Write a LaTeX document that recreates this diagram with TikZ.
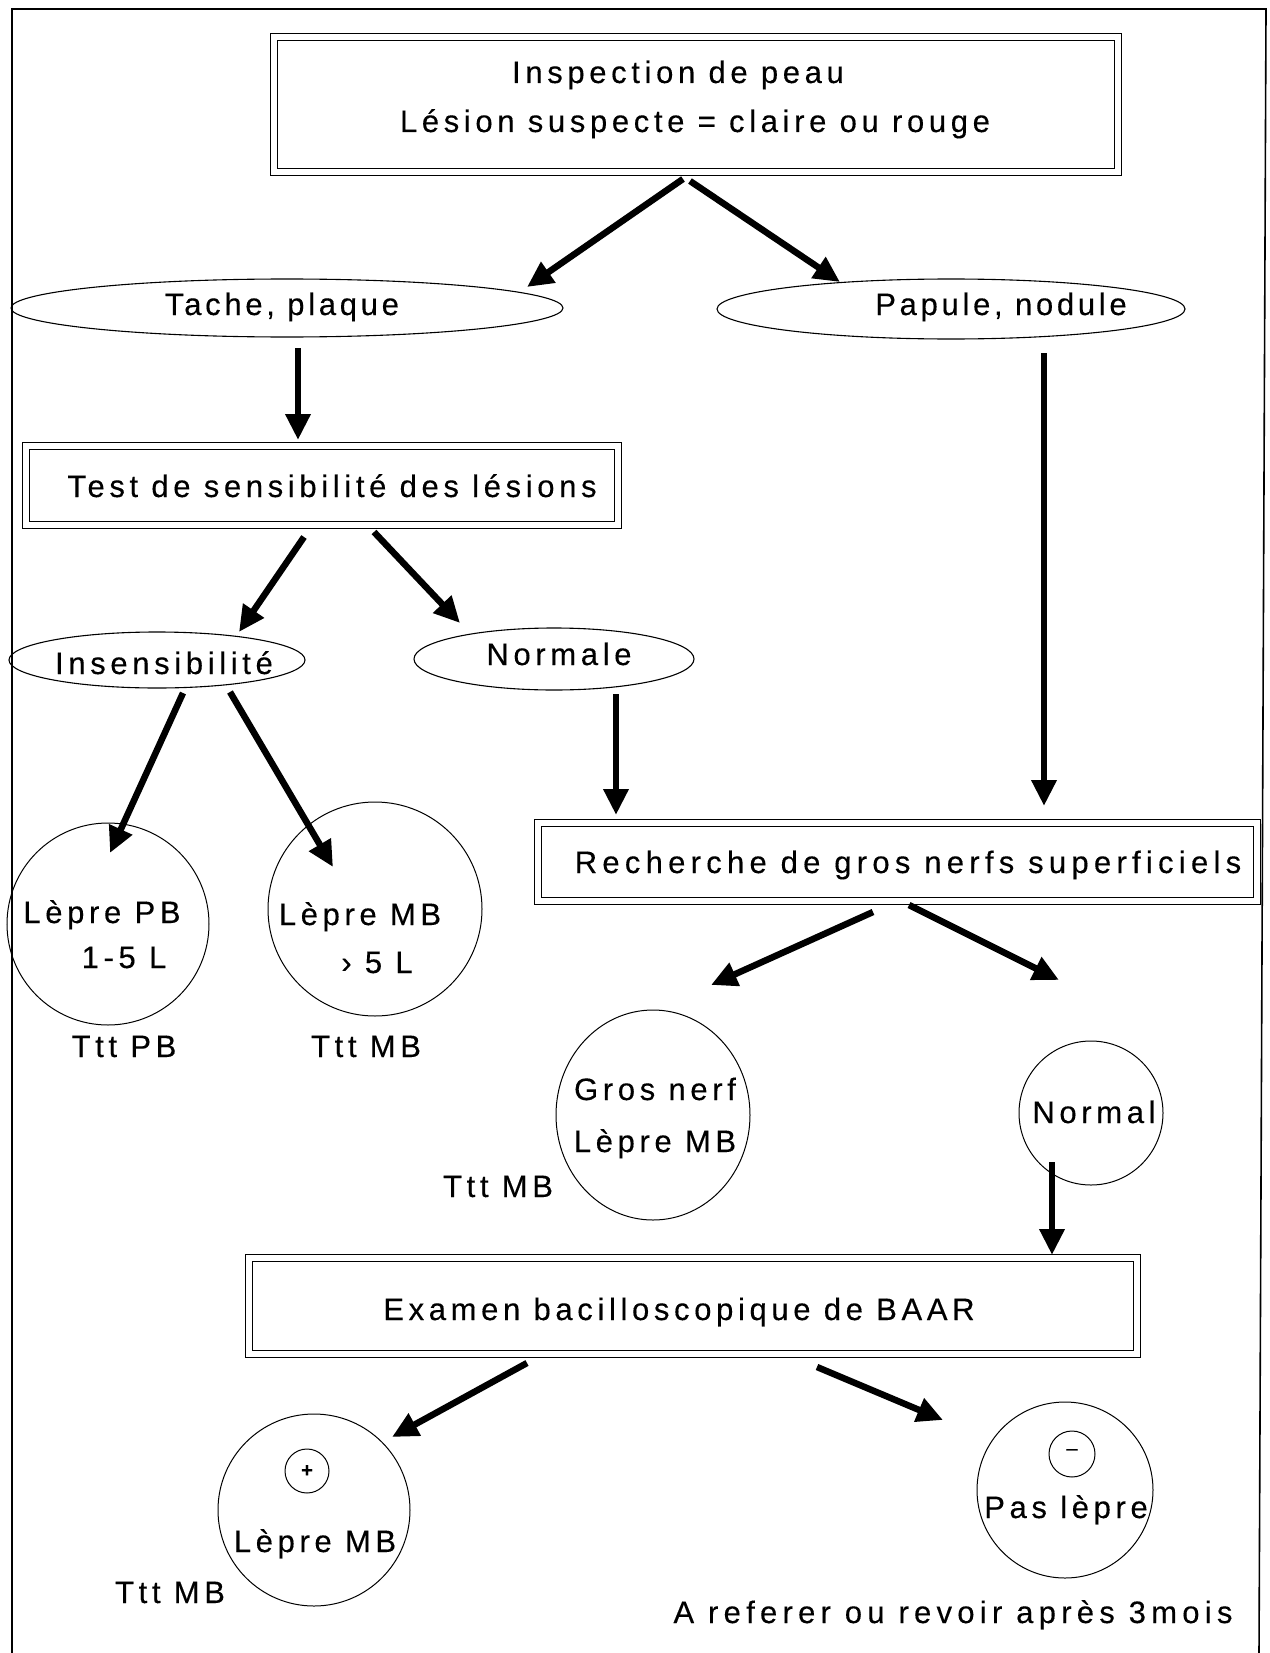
\documentclass[tikz,border=0pt]{standalone}
\usepackage{fontspec}
\setmainfont{Liberation Sans}[LetterSpace=15,FakeBold=0.3]
\usetikzlibrary{arrows.meta,shapes.geometric}
\begin{document}
\begin{tikzpicture}[x=1pt,y=-1pt,
  every node/.style={inner sep=0pt,outer sep=0pt},
  lbl/.style={anchor=base,font=\fontsize{31}{37}\selectfont},
  ls/.style={font=\fontsize{31}{37}\selectfont\addfontfeature{LetterSpace=#1}},
  dbox/.style n args={2}{draw,rectangle,double,double distance=6pt,line width=1.2pt,minimum width=#1,minimum height=#2},
  oval/.style n args={2}{draw,ellipse,line width=1.1pt,minimum width=#1,minimum height=#2},
  disc/.style={draw,circle,line width=1pt,minimum size=#1},
  arr/.style={line width=6.5pt,-{Triangle[length=26pt,width=24pt]}},
  frame/.style={line width=1.6pt}]
\useasboundingbox (0,0) rectangle (1269,1653);
\fill[white] (0,0) rectangle (1269,1653);
% page frame, open at the bottom
\draw[frame] (12,1653) -- (12,9) -- (1266,9) -- (1259,1653);

% boxes
\node[dbox={844pt}{135pt}] (top) at (696,104.5) {};
\node[dbox={592pt}{79pt}] (test) at (322,485.5) {};
\node[dbox={719pt}{78pt}] (rech) at (897.5,862) {};
\node[dbox={888pt}{96pt}] (exam) at (693,1306) {};

% ellipses
\node[oval={552pt}{58pt}] (tache) at (287,308) {};
\node[oval={468pt}{60pt}] (papule) at (951,309) {};
\node[oval={296pt}{56pt}] (insens) at (157,660) {};
\node[oval={280pt}{62pt}] (normale) at (554,659) {};

% round result nodes
\node[disc=202pt] (pb) at (108,924) {};
\node[disc=214pt] (mb) at (375,909) {};
\node[oval={194pt}{210pt},line width=1pt] (gros) at (653,1115) {};
\node[disc=144pt] (normal) at (1091,1113) {};
\node[disc=192pt] (plus) at (314,1510) {};
\node[disc=176pt] (minus) at (1065,1490) {};
\node[disc=44pt] (plussign) at (307,1471) {};
\node[disc=46pt] (minussign) at (1072,1454) {};

% texts
\node[lbl] (t1) at (678,83) {Inspection de peau};
\node[lbl] (t2) at (695,132) {Lésion suspecte = claire ou rouge};
\node[lbl,ls=12] (t3) at (282,315) {Tache, plaque};
\node[lbl,ls=12] (t4) at (1001,315) {Papule, nodule};
\node[lbl] (t5) at (332,497) {Test de sensibilité des lésions};
\node[lbl] (t6) at (164,674) {Insensibilité};
\node[lbl] (t7) at (559,665) {Normale};
\node[lbl] (t8) at (102,923) {Lèpre PB};
\node[lbl] (t9) at (124,968) {1-5 L};
\node[lbl] (t10) at (124,1057) {Ttt PB};
\node[lbl] (t11) at (360,925) {Lèpre MB};
\node[lbl] (t12) at (377,973) {› 5 L};
\node[lbl] (t13) at (366,1057) {Ttt MB};
\node[lbl,ls=17] (t14) at (908,873) {Recherche de gros nerfs superficiels};
\node[lbl] (t15) at (655,1100) {Gros nerf};
\node[lbl] (t16) at (655,1152) {Lèpre MB};
\node[lbl] (t17) at (498,1197) {Ttt MB};
\node[lbl] (t18) at (1094,1123) {Normal};
\node[lbl] (t19) at (679,1320) {Examen bacilloscopique de BAAR};
\node[lbl] (t20) at (315,1552) {Lèpre MB};
\node[lbl] (t21) at (170,1603) {Ttt MB};
\node[lbl] (t22) at (1066,1518) {Pas lèpre};
\node[lbl,ls=17] (t23) at (953,1623) {A referer ou revoir après 3mois};
\node[font=\fontsize{20}{20}\selectfont\bfseries] (psign) at (plussign.center) {+};
\node[font=\fontsize{20}{20}\selectfont] (msign) at ([yshift=2pt]minussign.center) {–};

% connectors
\draw[arr] ([shift={(-13,74.5)}]top.center) -- ([shift={(240,-21)}]tache.center);
\draw[arr] ([shift={(-6,76.5)}]top.center) -- ([shift={(-111,-27)}]papule.center);
\draw[arr] ([shift={(11,40)}]tache.center) -- ([shift={(-24,-45.5)}]test.center);
\draw[arr] ([shift={(93,44)}]papule.center) -- ([shift={(146.5,-56)}]rech.center);
\draw[arr] ([shift={(-18,51.5)}]test.center) -- ([shift={(82,-28)}]insens.center);
\draw[arr] ([shift={(52,46.5)}]test.center) -- ([shift={(-94,-36)}]normale.center);
\draw[arr] ([shift={(62,35)}]normale.center) -- ([shift={(-281.5,-47)}]rech.center);
\draw[arr] ([shift={(26,33)}]insens.center) -- ([shift={(2,-71)}]pb.center);
\draw[arr] ([shift={(73,32)}]insens.center) -- ([shift={(-42,-42)}]mb.center);
\draw[arr] ([shift={(-24.5,50)}]rech.center) -- ([shift={(58,-130)}]gros.center);
\draw[arr] ([shift={(11.5,43)}]rech.center) -- ([shift={(-32,-133)}]normal.center);
\draw[arr] ([shift={(-39,49)}]normal.center) -- ([shift={(359,-51)}]exam.center);
\draw[arr] ([shift={(-166,57)}]exam.center) -- ([shift={(78,-73)}]plus.center);
\draw[arr] ([shift={(124,61)}]exam.center) -- ([shift={(-122,-70)}]minus.center);
\end{tikzpicture}
\end{document}
